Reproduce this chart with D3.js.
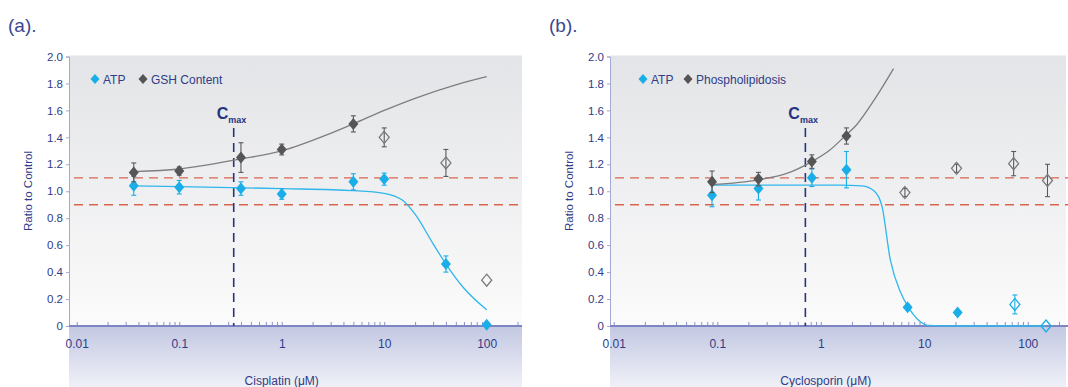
<!DOCTYPE html>
<html>
<head>
<meta charset="utf-8">
<script src="https://cdn.jsdelivr.net/npm/d3@7/dist/d3.min.js"></script>
<style>
  body { margin: 0; background: #fff; }
  svg { display: block; font-family: "Liberation Sans", Arial, Helvetica, sans-serif; }
</style>
</head>
<body>
<div id="chart"></div>
<script>
// ---- tick labels ----
var yTickValues = [0, 0.2, 0.4, 0.6, 0.8, 1.0, 1.2, 1.4, 1.6, 1.8, 2.0];
var xTickValues = [0.01, 0.1, 1, 10, 100];
var xTickLabels = ["0.01", "0.1", "1", "10", "100"];
var limitLines = [0.9, 1.1];

// ---- (a) cisplatin ----
var cisConc = [0.036, 0.1, 0.4, 1, 5, 10, 40, 100];
var cisAtp = [1.04, 1.03, 1.02, 0.98, 1.07, 1.09, 0.46, 0.01];
var cisAtpErr = [0.07, 0.05, 0.05, 0.04, 0.06, 0.045, 0.06, 0];
var cisAtpOpen = [false, false, false, false, false, false, false, false];
var cisGsh = [1.14, 1.15, 1.25, 1.31, 1.50, 1.40, 1.21, 0.34];
var cisGshErr = [0.07, 0.03, 0.11, 0.04, 0.06, 0.07, 0.10, 0];
var cisGshOpen = [false, false, false, false, false, true, true, true];
// fitted curves
var cisGshFitConc = [0.036, 0.1, 0.4, 1, 3, 5, 10, 20, 50, 100];
var cisGshFit = [1.145, 1.165, 1.24, 1.30, 1.43, 1.50, 1.60, 1.69, 1.79, 1.85];
var cisAtpFitConc = [0.036, 0.1, 1, 5, 10, 15, 20, 30, 40, 60, 100];
var cisAtpFit = [1.04, 1.035, 1.02, 1.005, 0.985, 0.935, 0.83, 0.61, 0.46, 0.28, 0.12];
var cisCmax = 0.34;

// ---- (b) cyclosporin ----
var cycConc = [0.089, 0.25, 0.82, 1.77, 6.9, 21, 75, 150];
var cycAtp = [0.97, 1.02, 1.10, 1.16, 0.14, 0.10, 0.16, 0.0];
var cycAtpErr = [0.085, 0.085, 0.065, 0.135, 0, 0, 0.07, 0];
var cycAtpOpen = [false, false, false, false, false, false, true, true];
var cycPhosConc = [0.089, 0.25, 0.82, 1.77, 6.5, 20.5, 73, 155];
var cycPhos = [1.07, 1.09, 1.22, 1.41, 0.99, 1.17, 1.205, 1.08];
var cycPhosErr = [0.08, 0.05, 0.05, 0.06, 0.03, 0.03, 0.09, 0.12];
var cycPhosOpen = [false, false, false, false, true, true, true, true];
var cycPhosFitConc = [0.089, 0.25, 0.5, 0.82, 1.2, 1.77, 2.2, 3.3, 5.05];
var cycPhosFit = [1.05, 1.085, 1.14, 1.22, 1.30, 1.42, 1.49, 1.68, 1.91];
var cycAtpFitConc = [0.089, 0.5, 1.5, 2.5, 3.3, 3.9, 4.7, 5.9, 7, 8.6, 10.8, 20, 146];
var cycAtpFit = [1.045, 1.045, 1.045, 1.04, 1.0, 0.89, 0.49, 0.25, 0.14, 0.05, 0.005, 0, 0];
var cycCmax = 0.71;

// colours
var cyan = "#1aaee8";
var grey = "#555555";
var navy = "#2f3c88";

//svg container
var svgWidth = 1068;
var svgHeight = 387;

var svg = d3.select("#chart")
  .append("svg")
  .attr("width", svgWidth)
  .attr("height", svgHeight);

// gradients
var defs = svg.append("defs");
var bgGrad = defs.append("linearGradient")
  .attr("id", "plotBg").attr("x1", 0).attr("y1", 0).attr("x2", 0).attr("y2", 1);
bgGrad.append("stop").attr("offset", "0%").attr("stop-color", "#e3e4e7");
bgGrad.append("stop").attr("offset", "100%").attr("stop-color", "#fbfbfb");
var bandGrad = defs.append("linearGradient")
  .attr("id", "bandBg").attr("x1", 0).attr("y1", 0).attr("x2", 0).attr("y2", 1);
bandGrad.append("stop").attr("offset", "0%").attr("stop-color", "#c3c8e2");
bandGrad.append("stop").attr("offset", "100%").attr("stop-color", "#eff0f7");

var diamondPath = "M0,-6L5,0L0,6L-5,0Z";

function drawPanel(p) {
  var x = d3.scaleLog().domain(p.xDomain).range([p.left, p.right]);
  var y = d3.scaleLinear().domain([0, 2]).range([326, 56.5]);

  var g = svg.append("g");

  // panel tag
  g.append("text")
    .attr("x", p.tagX)
    .attr("y", 32)
    .attr("font-size", 19)
    .attr("font-weight", 300)
    .attr("fill", "#3b4890")
    .text(p.tag);

  // backgrounds
  g.append("rect")
    .attr("x", p.left).attr("y", y(2) - 1)
    .attr("width", p.right - p.left).attr("height", y(0) - y(2) + 1)
    .attr("fill", "url(#plotBg)");
  g.append("rect")
    .attr("x", p.left).attr("y", y(0))
    .attr("width", p.right - p.left).attr("height", svgHeight - y(0))
    .attr("fill", "url(#bandBg)");

  // limit lines
  g.selectAll(".limit")
    .data(limitLines)
    .enter()
    .append("line")
    .attr("x1", p.left + 5).attr("x2", p.limitEnd)
    .attr("y1", d => y(d)).attr("y2", d => y(d))
    .attr("stroke", "#d9654f")
    .attr("stroke-width", 1.3)
    .attr("stroke-dasharray", "9,6");

  // y axis
  var leftAxis = d3.axisLeft(y)
    .tickValues(yTickValues)
    .tickSize(3)
    .tickPadding(3)
    .tickFormat(d => d === 0 ? "0" : d3.format(".1f")(d));
  var ya = g.append("g")
    .attr("transform", `translate(${p.left}, 0)`)
    .call(leftAxis);
  ya.select(".domain").attr("stroke", "#a3a8d4");
  ya.selectAll(".tick line").attr("stroke", "#a3a8d4");
  ya.selectAll("text").attr("fill", navy).attr("font-size", 11.5).attr("font-family", null);

  // x axis
  var bottomAxis = d3.axisBottom(x)
    .tickValues(x.ticks().filter(d => d >= 0.01 && d <= p.xDomain[1]))
    .tickSizeInner(-4)
    .tickSizeOuter(0)
    .tickPadding(13)
    .tickFormat(function(d) {
      var i = xTickValues.indexOf(d);
      return i >= 0 ? xTickLabels[i] : "";
    });
  var xa = g.append("g")
    .attr("transform", `translate(0, ${y(0)})`)
    .call(bottomAxis);
  xa.select(".domain").remove();
  xa.selectAll(".tick line").attr("stroke", "#8a91c6");
  xa.selectAll("text").attr("fill", navy).attr("font-size", 12).attr("font-family", null);
  g.append("line")
    .attr("x1", p.left).attr("x2", p.axisEnd)
    .attr("y1", y(0)).attr("y2", y(0))
    .attr("stroke", "#7d85c2")
    .attr("stroke-width", 2);

  // axis titles
  g.append("text")
    .attr("transform", "rotate(-90)")
    .attr("x", -191)
    .attr("y", p.left - 37)
    .attr("text-anchor", "middle")
    .attr("font-size", 11.5)
    .attr("fill", navy)
    .text("Ratio to Control");
  g.append("text")
    .attr("x", x(1) + p.titleShift)
    .attr("y", 385)
    .attr("text-anchor", "middle")
    .attr("font-size", 12)
    .attr("fill", navy)
    .text(p.xTitle);

  // Cmax
  g.append("line")
    .attr("x1", x(p.cmax)).attr("x2", x(p.cmax))
    .attr("y1", 128).attr("y2", y(0))
    .attr("stroke", "#28357e")
    .attr("stroke-width", 1.6)
    .attr("stroke-dasharray", "9,6");
  var ct = g.append("text")
    .attr("x", x(p.cmax) - 17)
    .attr("y", 119)
    .attr("fill", "#26337e")
    .attr("font-weight", "bold")
    .attr("font-size", 16);
  ct.append("tspan").text("C");
  ct.append("tspan").attr("font-size", 9).attr("dy", 4).text("max");

  var line = d3.line()
    .x(d => x(d[0]))
    .y(d => y(d[1]))
    .curve(d3.curveMonotoneX);

  p.series.forEach(function(s) {
    var fit = s.fitConc.map((c, i) => [c, s.fit[i]]);
    g.append("path")
      .attr("d", line(fit))
      .attr("fill", "none")
      .attr("stroke", s.curveColor)
      .attr("stroke-width", 1.3);
  });

  p.series.forEach(function(s) {
    var pts = s.conc.map((c, i) => ({c: c, v: s.values[i], e: s.err[i], open: s.open[i]}));
    var eb = g.selectAll(null)
      .data(pts.filter(d => d.e > 0))
      .enter()
      .append("g")
      .attr("stroke", s.barColor)
      .attr("stroke-width", 1.1);
    eb.append("line")
      .attr("x1", d => x(d.c)).attr("x2", d => x(d.c))
      .attr("y1", d => y(d.v - d.e)).attr("y2", d => y(d.v + d.e));
    eb.append("line")
      .attr("x1", d => x(d.c) - 2.5).attr("x2", d => x(d.c) + 2.5)
      .attr("y1", d => y(d.v + d.e)).attr("y2", d => y(d.v + d.e));
    eb.append("line")
      .attr("x1", d => x(d.c) - 2.5).attr("x2", d => x(d.c) + 2.5)
      .attr("y1", d => y(d.v - d.e)).attr("y2", d => y(d.v - d.e));

    g.selectAll(null)
      .data(pts)
      .enter()
      .append("path")
      .attr("d", diamondPath)
      .attr("transform", d => `translate(${x(d.c)}, ${y(d.v)})`)
      .attr("fill", d => d.open ? "none" : s.color)
      .attr("stroke", d => d.open ? s.openColor : "none")
      .attr("stroke-width", 1.3);
  });

  // legend
  var lg = g.append("g").attr("transform", `translate(${p.legendX}, 79)`);
  var lx = 0;
  p.series.forEach(function(s, i) {
    lg.append("path")
      .attr("d", "M0,-5L4.5,0L0,5L-4.5,0Z")
      .attr("transform", `translate(${lx}, 0)`)
      .attr("fill", s.color);
    lg.append("text")
      .attr("x", lx + 8)
      .attr("y", 4.5)
      .attr("font-size", 12)
      .attr("fill", navy)
      .text(s.name);
    lx += p.legendGap;
  });
}

drawPanel({
  tag: "(a).", tagX: 8,
  left: 69, right: 522, axisEnd: 522, limitEnd: 522,
  xDomain: [0.0084, 221],
  xTitle: "Cisplatin (μM)", titleShift: 0,
  cmax: cisCmax,
  legendX: 95, legendGap: 48,
  series: [
    {name: "ATP", color: cyan, openColor: cyan, barColor: cyan, curveColor: "#2fb6ec",
     conc: cisConc, values: cisAtp, err: cisAtpErr, open: cisAtpOpen,
     fitConc: cisAtpFitConc, fit: cisAtpFit},
    {name: "GSH Content", color: grey, openColor: "#7a7a7a", barColor: "#5a5a5a", curveColor: "#7e7e7e",
     conc: cisConc, values: cisGsh, err: cisGshErr, open: cisGshOpen,
     fitConc: cisGshFitConc, fit: cisGshFit}
  ]
});

drawPanel({
  tag: "(b).", tagX: 549,
  left: 610, right: 1066, axisEnd: 1068, limitEnd: 1068,
  xDomain: [0.0092, 234],
  xTitle: "Cyclosporin (μM)", titleShift: 5,
  cmax: cycCmax,
  legendX: 643, legendGap: 45,
  series: [
    {name: "ATP", color: cyan, openColor: cyan, barColor: cyan, curveColor: "#2fb6ec",
     conc: cycConc, values: cycAtp, err: cycAtpErr, open: cycAtpOpen,
     fitConc: cycAtpFitConc, fit: cycAtpFit},
    {name: "Phospholipidosis", color: grey, openColor: "#7a7a7a", barColor: "#5a5a5a", curveColor: "#7e7e7e",
     conc: cycPhosConc, values: cycPhos, err: cycPhosErr, open: cycPhosOpen,
     fitConc: cycPhosFitConc, fit: cycPhosFit}
  ]
});
</script>
</body>
</html>
